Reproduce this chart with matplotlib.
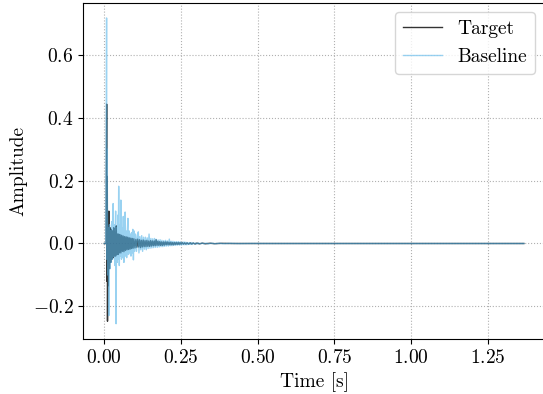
import numpy as np
import matplotlib
matplotlib.use("Agg")
import matplotlib.pyplot as plt

plt.rcParams['font.family'] = 'serif'
plt.rcParams['font.serif'] = ['cmr10']
plt.rcParams['mathtext.fontset'] = 'cm'
plt.rcParams['axes.formatter.use_mathtext'] = True
plt.rcParams['font.size'] = 14

# Target impulse response (samples)
target_t = [0.000, 0.006, 0.0078, 0.0088, 0.0098, 0.0105, 0.012, 0.013, 0.015, 0.017,
            0.019, 0.021, 0.023, 0.025, 0.027, 0.029, 0.031, 0.033, 0.035, 0.037,
            0.039, 0.041, 0.043, 0.045, 0.047, 0.049, 0.0515, 0.054, 0.0565, 0.059,
            0.0615, 0.064, 0.0665, 0.069, 0.0715, 0.074, 0.0765, 0.079, 0.0815, 0.084,
            0.0865, 0.089, 0.0915, 0.094, 0.0965, 0.100, 0.103, 0.106, 0.109, 0.112,
            0.115, 0.118, 0.121, 0.124, 0.127, 0.130, 0.133, 0.136, 0.139, 0.142,
            0.145, 0.148, 0.151, 0.154, 0.157, 0.160, 0.163, 0.166, 0.169, 0.172,
            0.175, 0.178, 0.181, 0.184, 0.187, 0.190, 0.193, 0.196, 0.199, 0.202,
            0.205, 0.208, 0.211, 0.214, 0.217, 0.220, 0.223, 0.226, 0.229, 0.232,
            0.235, 0.238, 0.241, 0.244, 0.247, 0.250, 0.254, 0.258, 0.262, 0.266,
            0.270, 0.275, 0.280, 0.285, 0.290, 0.296, 0.302, 0.310, 0.320, 0.330,
            0.345, 0.360, 0.380, 0.420, 1.368]
target_a = [0.0, 0.0, 0.443, -0.12, 0.213, -0.247, 0.06, -0.134, 0.103, -0.08,
            0.05, -0.06, 0.045, -0.05, 0.04, -0.045, 0.05, -0.04, 0.035, -0.04,
            0.056, -0.035, 0.03, -0.035, 0.03, -0.03, 0.028, -0.03, 0.026, -0.025,
            0.024, -0.026, 0.022, -0.022, 0.021, -0.02, 0.02, -0.019, 0.018, -0.018,
            0.017, -0.016, 0.016, -0.015, 0.015, -0.014, 0.013, -0.012, 0.014, -0.011,
            0.012, -0.013, 0.010, -0.011, 0.011, -0.010, 0.009, -0.010, 0.010, -0.009,
            0.008, -0.009, 0.009, -0.008, 0.008, -0.007, 0.008, -0.007, 0.012, -0.006,
            0.007, -0.006, 0.006, -0.006, 0.005, -0.006, 0.005, -0.005, 0.005, -0.004,
            0.005, -0.004, 0.004, -0.004, 0.004, -0.004, 0.003, -0.004, 0.003, -0.003,
            0.003, -0.003, 0.003, -0.003, 0.003, -0.002, 0.003, -0.002, 0.002, -0.002,
            0.002, -0.002, 0.002, -0.0015, 0.0015, -0.0015, 0.0012, -0.001, 0.001, -0.0008,
            0.0007, -0.0005, 0.0004, 0.0, 0.0]

# Baseline impulse response
baseline_t = [0.000, 0.005, 0.0075, 0.0085, 0.0095, 0.011, 0.013, 0.015, 0.017, 0.019,
              0.021, 0.023, 0.025, 0.027, 0.029, 0.031, 0.033, 0.035, 0.037, 0.0385,
              0.040, 0.042, 0.044, 0.0456, 0.047, 0.049, 0.051, 0.053, 0.054, 0.056,
              0.058, 0.060, 0.062, 0.064, 0.066, 0.068, 0.069, 0.071, 0.073, 0.075,
              0.077, 0.079, 0.081, 0.083, 0.085, 0.087, 0.089, 0.091, 0.093, 0.095,
              0.097, 0.099, 0.102, 0.105, 0.108, 0.111, 0.113, 0.116, 0.119, 0.122,
              0.125, 0.128, 0.131, 0.134, 0.137, 0.140, 0.143, 0.146, 0.149, 0.152,
              0.155, 0.158, 0.161, 0.164, 0.167, 0.170, 0.173, 0.176, 0.179, 0.182,
              0.185, 0.188, 0.191, 0.194, 0.197, 0.200, 0.203, 0.206, 0.209, 0.212,
              0.215, 0.218, 0.221, 0.224, 0.227, 0.230, 0.233, 0.236, 0.239, 0.242,
              0.245, 0.248, 0.251, 0.254, 0.257, 0.260, 0.263, 0.266, 0.269, 0.272,
              0.275, 0.278, 0.281, 0.284, 0.287, 0.290, 0.294, 0.298, 0.302, 0.307,
              0.312, 0.318, 0.325, 0.332, 0.340, 0.350, 0.360, 0.375, 0.390, 0.410,
              0.440, 0.480, 0.550, 1.368]
baseline_a = [0.0, 0.0, 0.717, -0.05, 0.30, -0.10, 0.05, -0.229, 0.06, -0.08,
              0.04, -0.06, 0.07, -0.05, 0.127, -0.04, 0.06, -0.07, 0.103, -0.255,
              0.05, -0.06, 0.09, -0.05, 0.182, -0.07, 0.06, -0.04, 0.138, -0.05,
              0.05, -0.045, 0.086, -0.06, 0.05, 0.10, -0.04, 0.04, -0.045, 0.035,
              0.08, -0.035, 0.04, -0.03, 0.03, -0.04, 0.035, -0.03, 0.045, -0.052,
              0.04, -0.025, 0.03, -0.025, 0.025, 0.037, -0.03, 0.022, -0.02, 0.025,
              -0.025, 0.02, -0.018, 0.02, -0.02, 0.018, -0.016, 0.030, -0.015, 0.016,
              -0.014, 0.015, -0.013, 0.016, -0.012, 0.013, -0.012, 0.011, -0.011, 0.012,
              -0.010, 0.010, -0.010, 0.009, -0.009, 0.010, -0.008, 0.008, -0.008, 0.014,
              -0.007, 0.007, -0.007, 0.007, -0.006, 0.006, -0.006, 0.006, -0.005, 0.006,
              -0.005, 0.005, -0.005, 0.004, -0.004, 0.005, -0.004, 0.004, -0.004, 0.003,
              -0.003, 0.003, -0.003, 0.003, -0.003, 0.002, -0.002, 0.002, -0.002, 0.002,
              -0.0015, 0.0015, -0.0012, 0.0012, -0.001, 0.001, -0.0008, 0.0007, -0.0006, 0.0005,
              -0.0003, 0.0002, 0.0, 0.0]

fig = plt.figure(figsize=(5.43, 3.94), dpi=100)
ax = fig.add_axes([0.1534, 0.1396, 0.850, 0.8536])

ax.plot(target_t, target_a, color='black', alpha=0.8, linewidth=1.0, label='Target')
ax.plot(baseline_t, baseline_a, color='#56B4E9', alpha=0.6, linewidth=1.0, label='Baseline')

ax.set_xlabel('Time [s]')
ax.set_ylabel('Amplitude')
ax.set_xticks([0.0, 0.25, 0.5, 0.75, 1.0, 1.25])
ax.set_yticks([-0.2, 0.0, 0.2, 0.4, 0.6])
ax.grid(True, linestyle=':', color='#b0b0b0', linewidth=0.8)
ax.legend(loc='upper right')

fig.savefig('out.png', dpi=100)
